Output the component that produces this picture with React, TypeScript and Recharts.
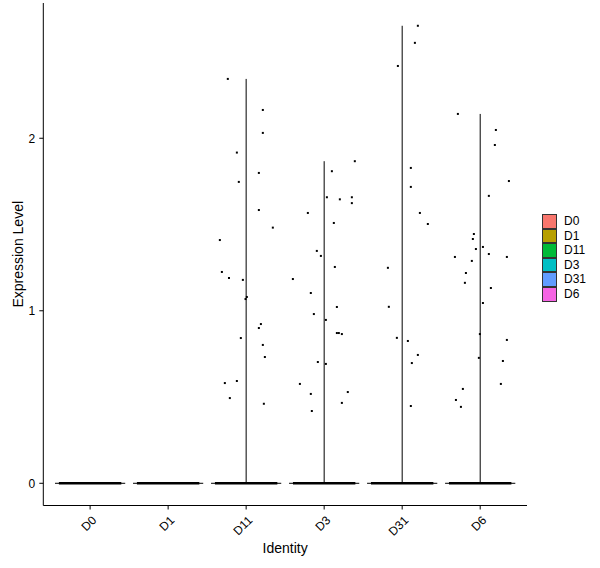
import React from "react";
import {
  ComposedChart,
  Scatter,
  XAxis,
  YAxis,
  ReferenceLine,
} from "recharts";

// groups on the x axis, and the ggplot hue colours used in the legend
const identities = ["D0", "D1", "D11", "D3", "D31", "D6"];
const fillColors = ["#F8766D", "#B79F00", "#00BA38", "#00BFC4", "#619CFF", "#F564E3"];

// non-zero cells per group: horizontal jitter (in category units) and expression level
const d11Jitter = [-0.235, 0.214, 0.214, -0.119, 0.163, -0.094, 0.163, 0.342, -0.337, -0.311, -0.22, -0.042, 0.009, -0.008, 0.189, 0.163, -0.068, 0.214, 0.24, -0.119, -0.273, -0.209, 0.227];
const d11Expr = [2.344, 2.164, 2.031, 1.917, 1.799, 1.747, 1.584, 1.482, 1.41, 1.225, 1.19, 1.179, 1.08, 1.068, 0.923, 0.9, 0.842, 0.802, 0.732, 0.593, 0.581, 0.494, 0.461];

const d3Jitter = [0.393, 0.099, 0.035, 0.201, 0.355, 0.355, -0.209, 0.124, -0.094, -0.042, 0.137, -0.401, -0.171, 0.163, -0.132, 0.022, 0.163, 0.188, 0.227, -0.081, 0.022, -0.311, -0.171, 0.303, 0.227, -0.158];
const d3Expr = [1.867, 1.809, 1.658, 1.646, 1.658, 1.624, 1.567, 1.509, 1.347, 1.318, 1.254, 1.184, 1.103, 1.022, 0.981, 0.947, 0.871, 0.871, 0.865, 0.703, 0.692, 0.576, 0.518, 0.529, 0.466, 0.419];

const d31Jitter = [0.201, 0.163, -0.055, 0.111, 0.111, 0.227, 0.329, -0.183, -0.171, -0.068, 0.073, 0.201, 0.124, 0.111];
const d31Expr = [2.652, 2.553, 2.419, 1.828, 1.718, 1.567, 1.503, 1.249, 1.023, 0.843, 0.825, 0.744, 0.697, 0.448];

const d6Jitter = [-0.286, 0.201, 0.188, 0.368, 0.111, -0.081, -0.094, -0.055, 0.035, 0.111, -0.324, 0.342, -0.107, -0.183, -0.196, 0.137, 0.035, -0.004, 0.342, -0.017, 0.291, 0.265, -0.222, -0.311, -0.247];
const d6Expr = [2.141, 2.048, 1.961, 1.752, 1.666, 1.445, 1.416, 1.358, 1.37, 1.329, 1.312, 1.312, 1.289, 1.219, 1.162, 1.132, 1.045, 0.865, 0.831, 0.727, 0.709, 0.576, 0.547, 0.483, 0.443];

const jitterByGroup = [[], [], d11Jitter, d3Jitter, d31Jitter, d6Jitter];
const exprByGroup = [[], [], d11Expr, d3Expr, d31Expr, d6Expr];

const yTicks = [0, 1, 2];

const FONT = "'Liberation Sans', Arial, sans-serif";
const VIOLIN_HALF = 0.45;
const ZERO_HALF = 0.4;

const groups = identities.map((name, i) => {
  const pos = i + 1;
  const points = exprByGroup[i].map((v, j) => ({ x: pos + jitterByGroup[i][j], y: v }));
  const max = exprByGroup[i].length ? Math.max(...exprByGroup[i]) : 0;
  return { name, pos, points, max };
});

const IdentityTick = (props: any) => {
  const { x, y, payload } = props;
  const ax = x + 7;
  const ay = y + 11.5;
  return (
    <text
      x={ax}
      y={ay}
      textAnchor="end"
      transform={`rotate(-45 ${ax} ${ay})`}
      fontSize={12}
      fontFamily={FONT}
      fill="#000"
    >
      {identities[payload.value - 1]}
    </text>
  );
};

const YTitle = (props: any) => {
  const vb = props.viewBox || {};
  const cx = 23;
  const cy = vb.y + vb.height / 2;
  return (
    <text
      x={cx}
      y={cy}
      textAnchor="middle"
      transform={`rotate(-90 ${cx} ${cy})`}
      fontSize={14}
      fontFamily={FONT}
      fill="#000"
    >
      Expression Level
    </text>
  );
};

const Dot = (p: any) => (
  <rect x={p.cx - 1} y={p.cy - 1} width={2} height={2} fill="#000" />
);

const App = () => {
  return (
    <div style={{ position: "absolute", left: 0, top: 0, width: 600, height: 568, background: "#fff" }}>
      <ComposedChart width={600} height={568} margin={{ top: 3, right: 73, bottom: 0, left: 0 }}>
        <XAxis
          type="number"
          dataKey="x"
          domain={[0.4, 6.6]}
          ticks={[1, 2, 3, 4, 5, 6]}
          allowDataOverflow
          height={62.5}
          tickSize={4}
          tickMargin={0}
          stroke="#000"
          axisLine={{ stroke: "#000", strokeWidth: 1 }}
          tickLine={{ stroke: "#000" }}
          tick={<IdentityTick />}
          label={{ value: "Identity", position: "insideBottom", offset: 15, fontSize: 14, fontFamily: FONT, fill: "#000" }}
        />
        <YAxis
          type="number"
          dataKey="y"
          domain={[-0.1287, 2.784]}
          ticks={yTicks}
          allowDataOverflow
          width={43.3}
          tickSize={4}
          tickMargin={4}
          axisLine={{ stroke: "#000", strokeWidth: 1 }}
          tickLine={{ stroke: "#000" }}
          tick={{ fill: "#000", fontSize: 12, fontFamily: FONT }}
          label={<YTitle />}
        />
        {groups.map((g) => (
          <ReferenceLine
            key={`v-${g.name}`}
            segment={[{ x: g.pos - VIOLIN_HALF, y: 0 }, { x: g.pos + VIOLIN_HALF, y: 0 }]}
            stroke="#000"
            strokeWidth={1}
          />
        ))}
        {groups.map((g) => (
          <ReferenceLine
            key={`z-${g.name}`}
            segment={[{ x: g.pos - ZERO_HALF, y: 0 }, { x: g.pos + ZERO_HALF, y: 0 }]}
            stroke="#000"
            strokeWidth={2.6}
          />
        ))}
        {groups
          .filter((g) => g.max > 0)
          .map((g) => (
            <ReferenceLine
              key={`m-${g.name}`}
              segment={[{ x: g.pos, y: 0 }, { x: g.pos, y: g.max }]}
              stroke="#000"
              strokeWidth={1}
            />
          ))}
        {groups.map((g) => (
          <Scatter
            key={g.name}
            name={g.name}
            data={g.points}
            shape={<Dot />}
            isAnimationActive={false}
          />
        ))}
      </ComposedChart>
      <div style={{ position: "absolute", left: 542, top: 214, fontFamily: FONT, fontSize: 12, color: "#000" }}>
        {identities.map((name, i) => (
          <div key={name} style={{ display: "flex", alignItems: "center", height: 14.6 }}>
            <div
              style={{
                width: 13,
                height: 12.6,
                background: fillColors[i],
                border: "1px solid #333",
              }}
            />
            <span style={{ marginLeft: 7, lineHeight: "14.6px" }}>{name}</span>
          </div>
        ))}
      </div>
    </div>
  );
};

export default App;
